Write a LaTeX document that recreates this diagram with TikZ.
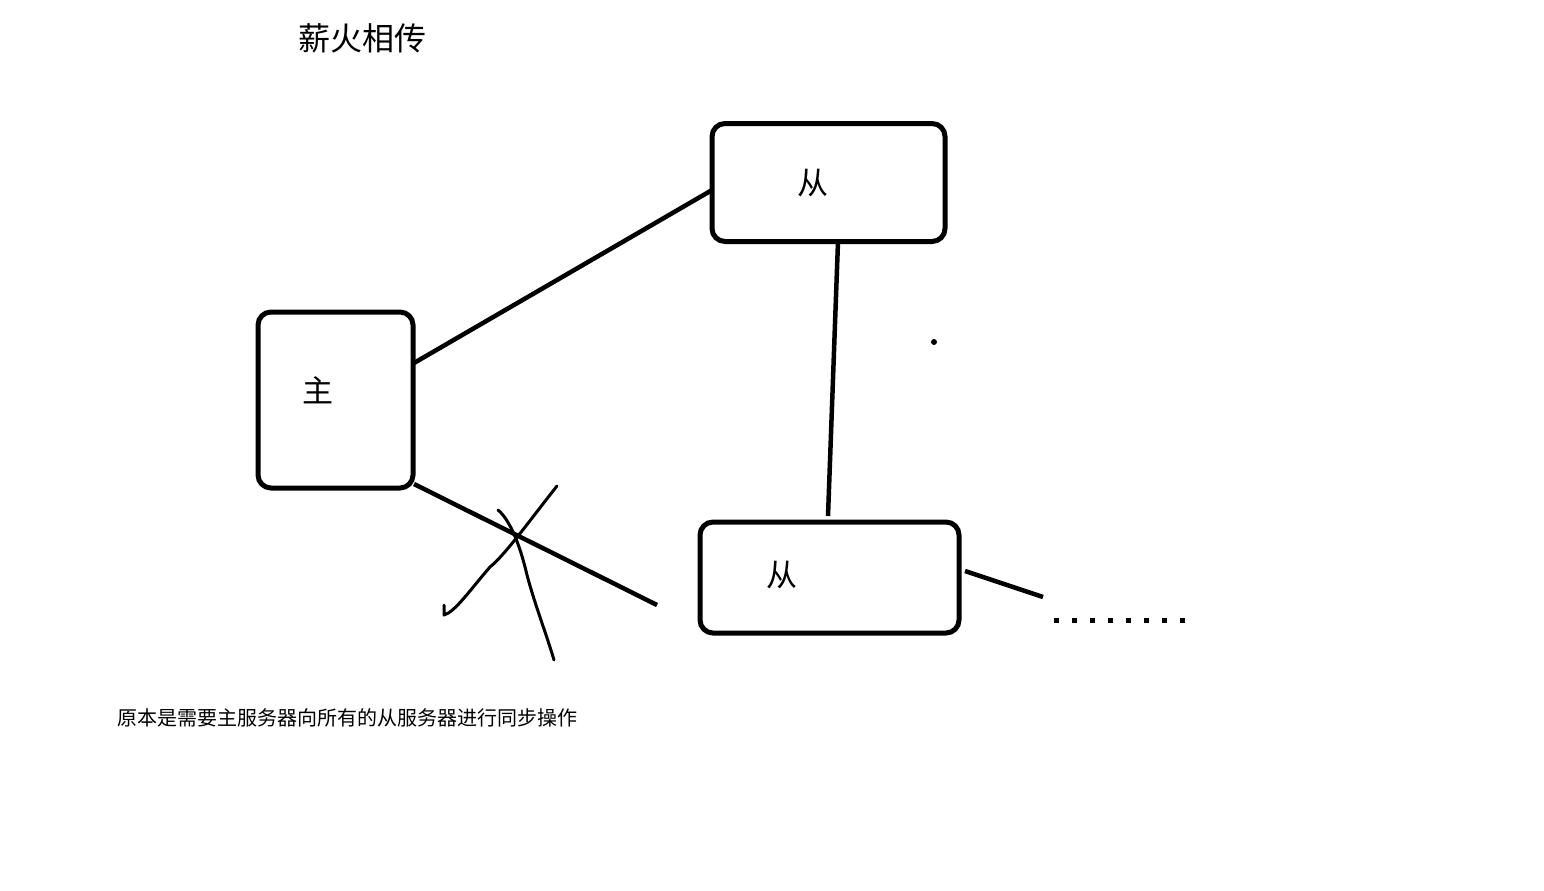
\documentclass[tikz,border=0pt]{standalone}
\usepackage{fontspec}
\setmainfont{Noto Sans CJK SC}
\usetikzlibrary{calc}
\begin{document}
\begin{tikzpicture}[x=1pt,y=-1pt,
  box/.style={draw,line width=5pt,rounded corners=13pt,inner sep=0pt,outer sep=0pt},
  conn/.style={line width=4.5pt},
  scrib/.style={line width=3pt,line cap=round,line join=round},
  lbl/.style={inner sep=0pt,font=\fontsize{31}{31}\selectfont}]
\useasboundingbox[fill=white] (0,0) rectangle (1544,891);
\node[box,minimum width=233pt,minimum height=118pt] (top) at (828.5,182.5) {};
\node[box,minimum width=155pt,minimum height=176pt] (master) at (335.5,400) {};
\node[box,minimum width=259pt,minimum height=111pt] (bot) at (829.5,577.5) {};
\node[lbl] (ltop) at (813,183) {从};
\node[lbl] (lmaster) at (318,390) {主};
\node[lbl] (lbot) at (782,575) {从};
\node[inner sep=0pt,font=\fontsize{32}{32}\selectfont] (title) at (362,38) {薪火相传};
\node[inner sep=0pt,anchor=west,font=\fontsize{20}{20}\selectfont] (note) at (117,718) {原本是需要主服务器向所有的从服务器进行同步操作};
\coordinate (e1) at (657,605);
\coordinate (e2) at (1043,597);
\draw[conn] ([yshift=37pt,xshift=1pt]master.east) -- ([yshift=-7pt,xshift=1pt]top.west);
\draw[conn] ([xshift=9.5pt]top.south) -- ([xshift=-1.5pt,yshift=6pt]bot.north);
\draw[conn] ([yshift=-84pt,xshift=1pt]master.east) -- (e1);
\draw[conn] ([xshift=6pt,yshift=6.5pt]bot.east) -- (e2);
\draw[scrib] (557,486) .. controls (530,520) and (505,555) .. (490,567) .. controls (470,590) and (455,612) .. (444,615) -- (444,605);
\draw[scrib] (498,510) .. controls (510,520) and (520,545) .. (527,575) .. controls (535,605) and (545,630) .. (554,660);
\fill (934,342) circle (3pt);
\foreach \i in {0,...,7} \fill ({1053.5+18.1*\i},617.5) rectangle ++(5,5);
\end{tikzpicture}
\end{document}
